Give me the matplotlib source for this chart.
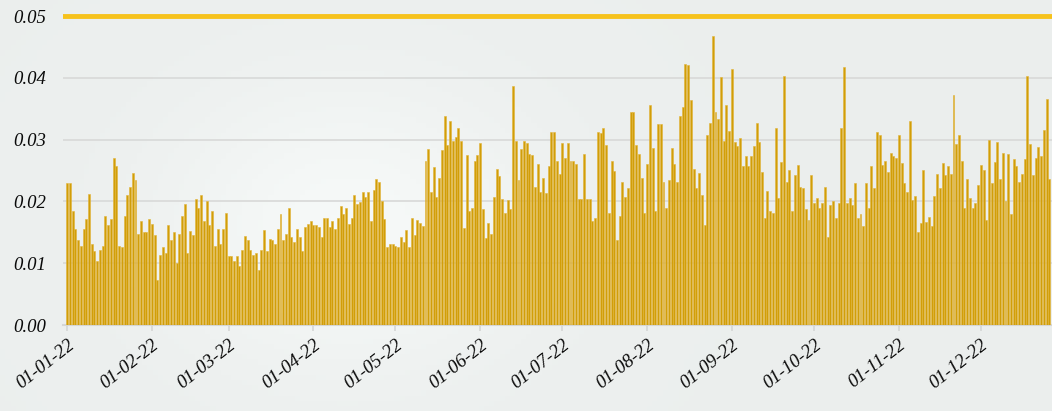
import numpy as np
import pandas as pd
import matplotlib
matplotlib.use("Agg")
import matplotlib.pyplot as plt
import matplotlib.dates as mdates

# valores diarios (jan-dez 2022)
jan = [0.0229, 0.0229, 0.0184, 0.0156, 0.0137, 0.0128, 0.0156, 0.0171, 0.0212, 0.0131,
       0.0120, 0.0103, 0.0122, 0.0128, 0.0176, 0.0162, 0.0171, 0.0271, 0.0257, 0.0128,
       0.0126, 0.0176, 0.0210, 0.0224, 0.0246, 0.0235, 0.0148, 0.0168, 0.0150, 0.0150,
       0.0171, 0.0164]
fev = [0.0146, 0.0073, 0.0114, 0.0126, 0.0117, 0.0162, 0.0137, 0.0150, 0.0100, 0.0148,
       0.0176, 0.0196, 0.0117, 0.0152, 0.0146, 0.0204, 0.0190, 0.0210, 0.0168, 0.0201,
       0.0162, 0.0184, 0.0128, 0.0156, 0.0131, 0.0156, 0.0181, 0.0112, 0.0112]
mar = [0.0103, 0.0112, 0.0095, 0.0122, 0.0144, 0.0137, 0.0122, 0.0114, 0.0117, 0.0089,
       0.0122, 0.0153, 0.0119, 0.0139, 0.0137, 0.0131, 0.0156, 0.0179, 0.0137, 0.0148,
       0.0189, 0.0142, 0.0134, 0.0156, 0.0142, 0.0119, 0.0159, 0.0164, 0.0168, 0.0162]
abr = [0.0162, 0.0159, 0.0142, 0.0173, 0.0173, 0.0159, 0.0168, 0.0156, 0.0173, 0.0192,
       0.0179, 0.0189, 0.0164, 0.0173, 0.0210, 0.0196, 0.0199, 0.0215, 0.0207, 0.0215,
       0.0168, 0.0218, 0.0237, 0.0232, 0.0201, 0.0171, 0.0126, 0.0131, 0.0131, 0.0128]
mai = [0.0126, 0.0143, 0.0134, 0.0154, 0.0126, 0.0173, 0.0146, 0.0170, 0.0165, 0.0160,
       0.0266, 0.0285, 0.0216, 0.0255, 0.0207, 0.0238, 0.0283, 0.0339, 0.0291, 0.0330,
       0.0297, 0.0305, 0.0319, 0.0297, 0.0157, 0.0275, 0.0184, 0.0190, 0.0266, 0.0275,
       0.0294]
jun = [0.0187, 0.0140, 0.0165, 0.0148, 0.0207, 0.0252, 0.0241, 0.0204, 0.0182, 0.0202,
       0.0187, 0.0387, 0.0297, 0.0235, 0.0285, 0.0297, 0.0294, 0.0277, 0.0275, 0.0224,
       0.0261, 0.0216, 0.0238, 0.0213, 0.0257, 0.0313, 0.0313, 0.0266, 0.0244, 0.0294,
       0.0271]
jul = [0.0294, 0.0266, 0.0266, 0.0261, 0.0204, 0.0204, 0.0277, 0.0204, 0.0204, 0.0168,
       0.0173, 0.0313, 0.0311, 0.0319, 0.0291, 0.0182, 0.0266, 0.0249, 0.0137, 0.0176,
       0.0232, 0.0207, 0.0221, 0.0345, 0.0345, 0.0291, 0.0277, 0.0238, 0.0182, 0.0261,
       0.0356]
ago = [0.0286, 0.0185, 0.0325, 0.0325, 0.0232, 0.0190, 0.0235, 0.0286, 0.0261, 0.0232,
       0.0339, 0.0353, 0.0423, 0.0420, 0.0364, 0.0252, 0.0221, 0.0246, 0.0210, 0.0162,
       0.0308, 0.0327, 0.0468, 0.0345, 0.0333, 0.0401, 0.0297, 0.0356, 0.0314, 0.0414]
setb = [0.0296, 0.0290, 0.0302, 0.0257, 0.0273, 0.0257, 0.0273, 0.0290, 0.0327, 0.0296,
        0.0248, 0.0173, 0.0217, 0.0184, 0.0181, 0.0318, 0.0206, 0.0263, 0.0403, 0.0231,
        0.0251, 0.0184, 0.0243, 0.0259, 0.0223, 0.0221, 0.0187, 0.0170, 0.0243, 0.0198]
out = [0.0206, 0.0189, 0.0198, 0.0223, 0.0142, 0.0195, 0.0201, 0.0173, 0.0198, 0.0318,
       0.0417, 0.0198, 0.0206, 0.0195, 0.0229, 0.0173, 0.0179, 0.0161, 0.0229, 0.0189,
       0.0257, 0.0221, 0.0313, 0.0307, 0.0259, 0.0265, 0.0248, 0.0279, 0.0273, 0.0271,
       0.0307, 0.0262]
nov = [0.0229, 0.0215, 0.0330, 0.0203, 0.0209, 0.0150, 0.0165, 0.0251, 0.0167, 0.0175,
       0.0161, 0.0209, 0.0245, 0.0221, 0.0262, 0.0243, 0.0257, 0.0245, 0.0372, 0.0293,
       0.0307, 0.0265, 0.0189, 0.0237, 0.0206, 0.0189, 0.0198, 0.0226, 0.0259, 0.0251]
dez = [0.0170, 0.0299, 0.0229, 0.0263, 0.0296, 0.0237, 0.0279, 0.0201, 0.0277, 0.0179,
       0.0268, 0.0257, 0.0231, 0.0245, 0.0268, 0.0403, 0.0293, 0.0243, 0.0271, 0.0288,
       0.0273, 0.0316, 0.0366, 0.0237]

valores = jan + fev + mar + abr + mai + jun + jul + ago + setb + out + nov + dez
datas = pd.date_range("2022-01-01", periods=len(valores), freq="D")

meses = pd.date_range("2022-01-01", "2022-12-01", freq="MS")
y_ticks = [0.00, 0.01, 0.02, 0.03, 0.04, 0.05]

# ---- figura ----
fundo = "#EDF0EF"
fig = plt.figure(figsize=(10.52, 4.11), dpi=100, facecolor=fundo)

# fundo com leve gradiente
bg = fig.add_axes([0, 0, 1, 1], zorder=-10)
gx, gy = np.meshgrid(np.linspace(0, 1, 200), np.linspace(0, 1, 80))
brilho = np.exp(-((gx - 0.33) ** 2 / 0.03 + (gy - 0.55) ** 2 / 0.12))
img = np.zeros((80, 200, 3))
base = np.array([0.925, 0.937, 0.933])
for k in range(3):
    img[:, :, k] = base[k] + 0.04 * brilho
bg.imshow(np.clip(img, 0, 1), aspect="auto", extent=[0, 1, 0, 1])
bg.axis("off")

ax = fig.add_axes([63 / 1052, 86 / 411, 1 - 63 / 1052, 317 / 411])
ax.patch.set_alpha(0)

ax.bar(datas, valores, width=0.72, color="#D19E08", edgecolor="#E2B43A",
       linewidth=0.4, zorder=3)
ax.axhline(0.05, color="#F6C21C", linewidth=3.5, zorder=4)

ax.set_ylim(0, 0.0513)
ax.set_xlim(pd.Timestamp("2021-12-30 12:00"), pd.Timestamp("2022-12-27 00:00"))
ax.set_yticks(y_ticks)
ax.set_yticklabels([f"{v:.2f}" for v in y_ticks])
ax.set_xticks(meses)
ax.xaxis.set_major_formatter(mdates.DateFormatter("%d-%m-%y"))

ax.grid(axis="y", color="#DADBDA", linewidth=1.3, zorder=1)
for lado in ["top", "right", "left"]:
    ax.spines[lado].set_visible(False)
ax.spines["bottom"].set_color("#D5D6D5")
ax.spines["bottom"].set_linewidth(1.5)

for lbl in ax.get_yticklabels() + ax.get_xticklabels():
    lbl.set_fontfamily("Liberation Serif")
    lbl.set_fontstyle("italic")
    lbl.set_fontsize(13.5)
    lbl.set_color("#0A0A0A")
for lbl in ax.get_xticklabels():
    lbl.set_rotation(38)
    lbl.set_ha("right")
    lbl.set_rotation_mode("anchor")

ax.tick_params(axis="y", length=0, pad=12)
ax.tick_params(axis="x", length=4, color="#D5D6D5", width=1.2, pad=4)

plt.savefig("out.png", dpi=100, facecolor=fundo)
